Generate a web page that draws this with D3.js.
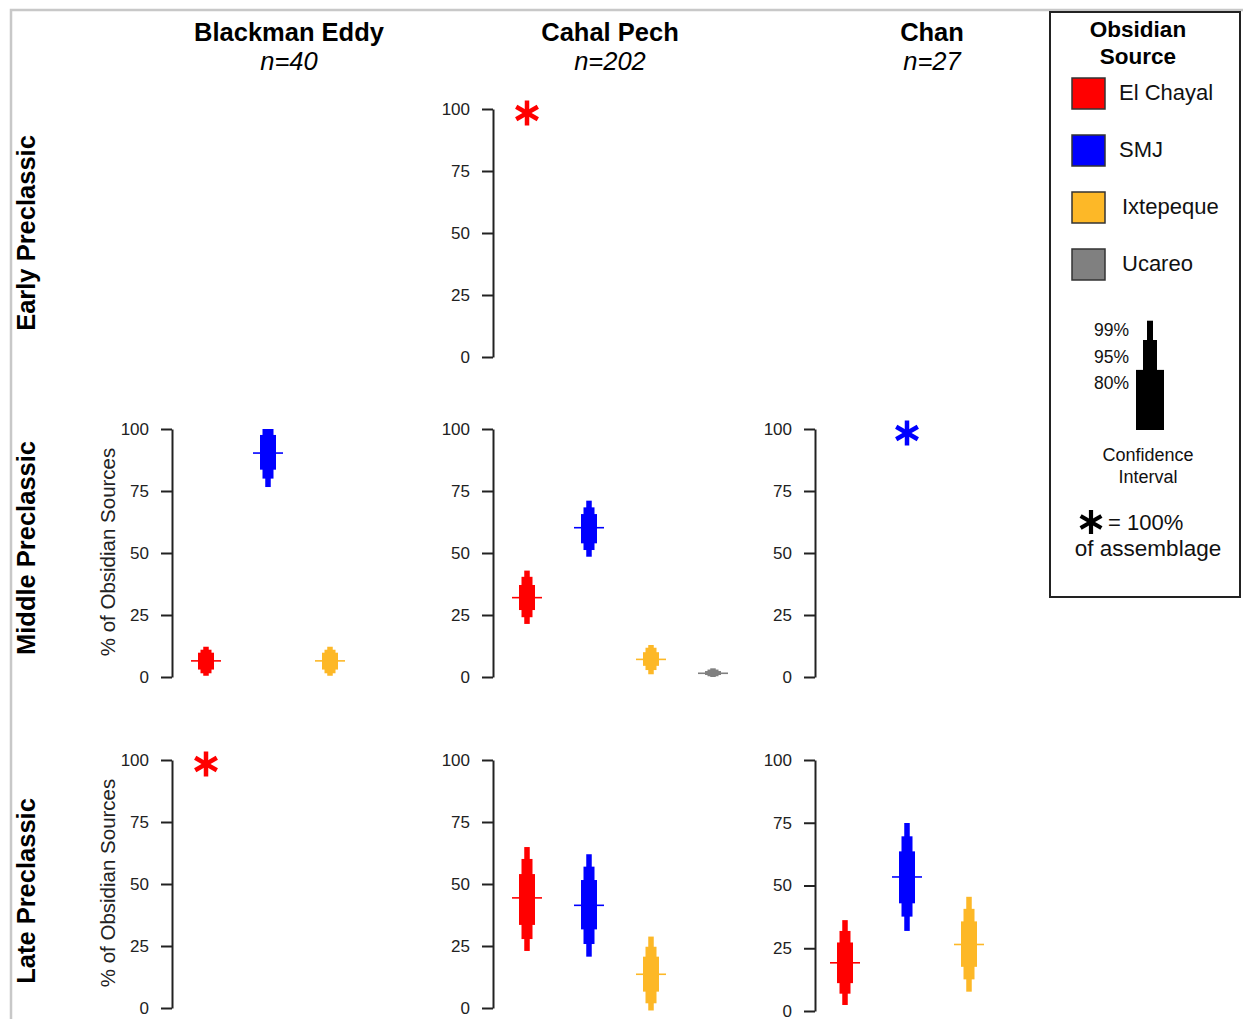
<!DOCTYPE html>
<html>
<head>
<meta charset="utf-8">
<script src="https://cdn.jsdelivr.net/npm/d3@7"></script>
<style>
  body { margin: 0; background: #fff; }
  svg { display: block; font-family: "Liberation Sans", Arial, sans-serif; }
</style>
</head>
<body>
<div id="chart"></div>
<script>
// obsidian sources and their colours
const sources = ["El Chayal", "SMJ", "Ixtepeque", "Ucareo"];
const sourceColors = ["#ff0000", "#0000ff", "#fdb827", "#808080"];

const sites = ["Blackman Eddy", "Cahal Pech", "Chan"];
const siteN = [40, 202, 27];
const periods = ["Early Preclassic", "Middle Preclassic", "Late Preclassic"];
const yTicks = [0, 25, 50, 75, 100];

// panels that get an axis: [site, period]
const panels = [
  ["Cahal Pech", "Early Preclassic"],
  ["Blackman Eddy", "Middle Preclassic"],
  ["Cahal Pech", "Middle Preclassic"],
  ["Chan", "Middle Preclassic"],
  ["Blackman Eddy", "Late Preclassic"],
  ["Cahal Pech", "Late Preclassic"],
  ["Chan", "Late Preclassic"]
];

// confidence intervals: site, period, source, mean, lo80, hi80, lo95, hi95, lo99, hi99
const intervals = [
  ["Blackman Eddy", "Middle Preclassic", "El Chayal", 6.5, 3, 9.8, 1.5, 11, 0.5, 12.2],
  ["Blackman Eddy", "Middle Preclassic", "SMJ", 90.3, 83.6, 97.6, 80, 100, 76.6, 100],
  ["Blackman Eddy", "Middle Preclassic", "Ixtepeque", 6.5, 3, 9.8, 1.5, 11, 0.5, 12.2],
  ["Cahal Pech", "Middle Preclassic", "El Chayal", 32, 27, 37.1, 24.1, 40.4, 21.4, 42.9],
  ["Cahal Pech", "Middle Preclassic", "SMJ", 60.2, 53.9, 65.7, 51.2, 68.4, 48.5, 71.1],
  ["Cahal Pech", "Middle Preclassic", "Ixtepeque", 7.1, 4.5, 10, 2.8, 11.8, 1.1, 12.9],
  ["Cahal Pech", "Middle Preclassic", "Ucareo", 1.5, 0.8, 2.4, 0.3, 3, 0, 3.5],
  ["Cahal Pech", "Late Preclassic", "El Chayal", 44.4, 33.5, 54, 27.8, 60.1, 23, 64.9],
  ["Cahal Pech", "Late Preclassic", "SMJ", 41.4, 31.7, 51.6, 25.8, 57, 20.7, 62],
  ["Cahal Pech", "Late Preclassic", "Ixtepeque", 13.6, 6.6, 20.7, 1.9, 24.7, -1, 28.8],
  ["Chan", "Late Preclassic", "El Chayal", 19.2, 11.1, 27.3, 6.9, 31.9, 2.4, 36.2],
  ["Chan", "Late Preclassic", "SMJ", 53.4, 42.9, 63.6, 37.6, 69.6, 31.9, 74.9],
  ["Chan", "Late Preclassic", "Ixtepeque", 26.5, 17.6, 35.7, 12.6, 40.7, 7.7, 45.5]
];

// single-source assemblages (100%)
const wholeAssemblage = [
  ["Cahal Pech", "Early Preclassic", "El Chayal", 100],
  ["Chan", "Middle Preclassic", "SMJ", 100],
  ["Blackman Eddy", "Late Preclassic", "El Chayal", 100]
];

const ciLevels = ["99%", "95%", "80%"];

// ---- layout ----
const W = 1243, H = 1019;
const colAxisX = [172, 493, 815];
const colCatStart = [206, 527, 845];
const catStep = 62;
const colHeadX = [289, 610, 932];
const rowRange = {
  "Early Preclassic": [357, 109],
  "Middle Preclassic": [677, 429],
  "Late Preclassic": [1008, 760]
};
const rowLabelY = [233, 548, 891];
const ciWidth = { "80": 16, "95": 11, "99": 5.5 };

const svg = d3.select("#chart").append("svg")
  .attr("width", W).attr("height", H);

// outer frame of the figure
svg.append("path")
  .attr("d", `M11,${H} L11,10 L${W},10`)
  .attr("fill", "none")
  .attr("stroke", "#c8c8c8")
  .attr("stroke-width", 2.5);

const color = d3.scaleOrdinal().domain(sources).range(sourceColors);

function xScale(site) {
  const c = sites.indexOf(site);
  return d3.scalePoint().domain(sources)
    .range([colCatStart[c], colCatStart[c] + catStep * (sources.length - 1)]);
}
function yScale(site, period) {
  let r = rowRange[period].slice();
  if (site === "Chan" && period === "Late Preclassic") r = [1011, 760];
  return d3.scaleLinear().domain([0, 100]).range(r);
}

// column headers
sites.forEach((s, i) => {
  svg.append("text")
    .attr("x", colHeadX[i]).attr("y", 41)
    .attr("text-anchor", "middle")
    .style("font-weight", "bold").style("font-size", "25.5px")
    .text(s);
  svg.append("text")
    .attr("x", colHeadX[i]).attr("y", 70)
    .attr("text-anchor", "middle")
    .style("font-style", "italic").style("font-size", "25.5px")
    .text("n=" + siteN[i]);
});

// row labels
periods.forEach((p, i) => {
  svg.append("text")
    .attr("transform", `translate(35,${rowLabelY[i]}) rotate(-90)`)
    .attr("text-anchor", "middle")
    .style("font-weight", "bold").style("font-size", "25.5px")
    .text(p);
});

// axes
panels.forEach(([site, period]) => {
  const c = sites.indexOf(site);
  const y = yScale(site, period);
  const g = svg.append("g")
    .attr("transform", `translate(${colAxisX[c]},0)`)
    .call(d3.axisLeft(y).tickValues(yTicks).tickSize(11).tickSizeOuter(0).tickPadding(12));
  g.select(".domain").attr("stroke", "#222").attr("stroke-width", 2);
  g.selectAll(".tick line").attr("stroke", "#222").attr("stroke-width", 2);
  g.selectAll(".tick text")
    .style("font-size", "17px")
    .style("font-family", "'Liberation Sans', Arial, sans-serif")
    .attr("fill", "#222");
  if (site === "Blackman Eddy") {
    const r = y.range();
    svg.append("text")
      .attr("transform", `translate(115,${(r[0] + r[1]) / 2 - 1}) rotate(-90)`)
      .attr("text-anchor", "middle")
      .style("font-size", "20.5px")
      .attr("fill", "#222")
      .text("% of Obsidian Sources");
  }
});

// confidence interval glyphs
intervals.forEach(d => {
  const [site, period, src, mean, lo80, hi80, lo95, hi95, lo99, hi99] = d;
  const x = xScale(site)(src), y = yScale(site, period);
  const g = svg.append("g");
  [[lo99, hi99, ciWidth["99"]], [lo95, hi95, ciWidth["95"]], [lo80, hi80, ciWidth["80"]]]
    .forEach(([lo, hi, w]) => {
      g.append("rect")
        .attr("x", x - w / 2).attr("width", w)
        .attr("y", y(hi)).attr("height", y(lo) - y(hi))
        .attr("fill", color(src));
    });
  g.append("line")
    .attr("x1", x - 15).attr("x2", x + 15)
    .attr("y1", y(mean)).attr("y2", y(mean))
    .attr("stroke", color(src)).attr("stroke-width", 1.6);
});

function asterisk(g, cx, cy, r, col, sw) {
  [90, 30, -30].forEach(a => {
    const t = a * Math.PI / 180;
    g.append("line")
      .attr("x1", cx - r * Math.cos(t)).attr("y1", cy - r * Math.sin(t))
      .attr("x2", cx + r * Math.cos(t)).attr("y2", cy + r * Math.sin(t))
      .attr("stroke", col).attr("stroke-width", sw);
  });
}

wholeAssemblage.forEach(([site, period, src, v]) => {
  asterisk(svg, xScale(site)(src), yScale(site, period)(v) + 4, 12.5, color(src), 4.5);
});

// ---- legend ----
const lg = svg.append("g");
lg.append("rect")
  .attr("x", 1050).attr("y", 12).attr("width", 190).attr("height", 585)
  .attr("fill", "#fff").attr("stroke", "#222").attr("stroke-width", 2);
lg.append("text").attr("x", 1138).attr("y", 37).attr("text-anchor", "middle")
  .style("font-weight", "bold").style("font-size", "22.5px").text("Obsidian");
lg.append("text").attr("x", 1138).attr("y", 64).attr("text-anchor", "middle")
  .style("font-weight", "bold").style("font-size", "22.5px").text("Source");

sources.forEach((s, i) => {
  lg.append("rect")
    .attr("x", 1072).attr("y", 78 + i * 57)
    .attr("width", 33).attr("height", 31)
    .attr("fill", color(s)).attr("stroke", "#333").attr("stroke-width", 1.5);
  lg.append("text")
    .attr("x", i < 2 ? 1119 : 1122).attr("y", 100 + i * 57)
    .style("font-size", "22px").attr("fill", "#111")
    .text(s);
});

// CI key
const keyY = d3.scaleLinear().domain([0, 3]).range([430, 320.7]);
const keyTops = [3, 2.47, 1.65]; // 99, 95, 80 heights on key scale
const keyW = [6, 14, 28];
keyTops.forEach((t, i) => {
  lg.append("rect")
    .attr("x", 1150 - keyW[i] / 2).attr("width", keyW[i])
    .attr("y", keyY(t)).attr("height", keyY(0) - keyY(t))
    .attr("fill", "#000");
});
ciLevels.forEach((l, i) => {
  lg.append("text")
    .attr("x", 1129).attr("y", 336 + i * 26.5)
    .attr("text-anchor", "end")
    .style("font-size", "17.5px").attr("fill", "#111")
    .text(l);
});
lg.append("text").attr("x", 1148).attr("y", 461).attr("text-anchor", "middle")
  .style("font-size", "18px").attr("fill", "#111").text("Confidence");
lg.append("text").attr("x", 1148).attr("y", 483).attr("text-anchor", "middle")
  .style("font-size", "18px").attr("fill", "#111").text("Interval");

asterisk(lg, 1091, 522, 12, "#000", 4.2);
lg.append("text").attr("x", 1108).attr("y", 530)
  .style("font-size", "22px").attr("fill", "#111").text("= 100%");
lg.append("text").attr("x", 1148).attr("y", 556).attr("text-anchor", "middle")
  .style("font-size", "22.5px").attr("fill", "#111").text("of assemblage");
</script>
</body>
</html>
